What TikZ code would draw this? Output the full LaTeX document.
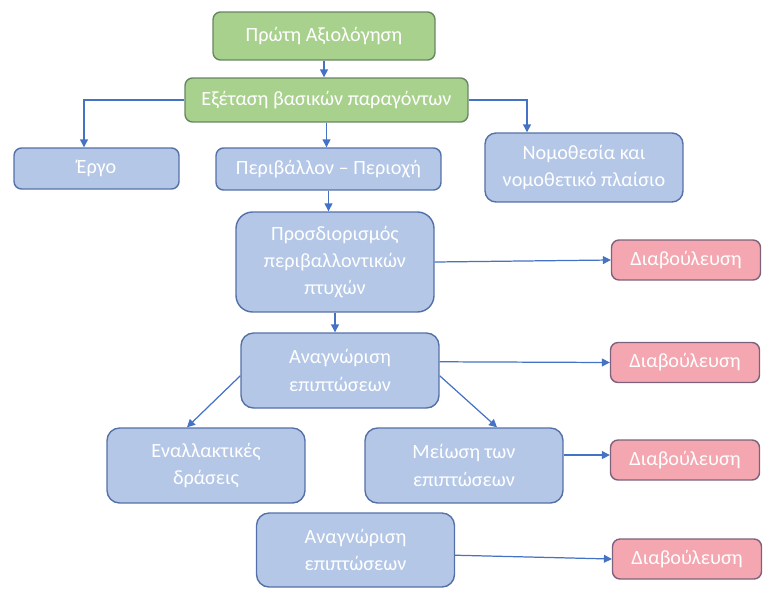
\documentclass[tikz,border=0pt]{standalone}
\usepackage{fontspec}
\setmainfont{Carlito}
\usetikzlibrary{arrows.meta}

\definecolor{boxblue}{HTML}{B4C7E7}
\definecolor{lineblue}{RGB}{84,112,168}
\definecolor{boxgreen}{HTML}{A9D18E}
\definecolor{linegreen}{RGB}{104,134,98}
\definecolor{boxpink}{HTML}{F4A7B1}
\definecolor{linepink}{RGB}{124,98,122}
\definecolor{arrowblue}{HTML}{4472C4}

\begin{document}
\begin{tikzpicture}[x=0.02cm,y=-0.02cm,
  box/.style={rounded corners=0.15cm, line width=0.8pt, text=white,
              align=center, inner sep=0pt,
              font=\fontsize{11.5}{15.5}\selectfont},
  bluebox/.style={box, fill=boxblue, draw=lineblue},
  greenbox/.style={box, fill=boxgreen, draw=linegreen},
  pinkbox/.style={box, fill=boxpink, draw=linepink,
                  minimum width=2.98cm, minimum height=0.8cm},
  link/.style={draw=arrowblue, line width=0.7pt,
               -{Triangle[width=4.5pt,length=4.5pt]}}]

  \useasboundingbox (0,0) rectangle (763,595);

  % top of the chart
  \node[greenbox, minimum width=4.44cm, minimum height=0.96cm] (first) at (324,36) {Πρώτη Αξιολόγηση};
  \node[greenbox, minimum width=5.66cm, minimum height=0.88cm] (exam) at (326.5,100) {Εξέταση βασικών παραγόντων};

  \node[bluebox, minimum width=3.3cm, minimum height=0.82cm] (ergo) at (96.5,168.5) {Έργο};
  \node[bluebox, minimum width=4.5cm, minimum height=0.84cm] (periv) at (328.5,169) {Περιβάλλον – Περιοχή};
  \node[bluebox, minimum width=3.96cm, minimum height=1.38cm, rounded corners=0.22cm] (nomo) at (584,167.5) {Νομοθεσία και\\νομοθετικό πλαίσιο};

  % middle
  \node[bluebox, minimum width=3.96cm, minimum height=2cm, rounded corners=0.33cm] (prosd) at (335,262) {Προσδιορισμός\\περιβαλλοντικών\\πτυχών};
  \node[pinkbox] (diab1) at (686,260) {Διαβούλευση};

  \node[bluebox, minimum width=3.96cm, minimum height=1.5cm, rounded corners=0.25cm] (anag1) at (340,370.5) {Αναγνώριση\\επιπτώσεων};
  \node[pinkbox] (diab2) at (685,362.5) {Διαβούλευση};

  \node[bluebox, minimum width=3.96cm, minimum height=1.5cm, rounded corners=0.25cm] (enal) at (206,465.5) {Εναλλακτικές\\δράσεις};
  \node[bluebox, minimum width=3.96cm, minimum height=1.5cm, rounded corners=0.25cm] (meio) at (464,465.5) {Μείωση των\\επιπτώσεων};
  \node[pinkbox] (diab3) at (685,460) {Διαβούλευση};

  % bottom
  \node[bluebox, minimum width=3.96cm, minimum height=1.48cm, rounded corners=0.25cm] (anag2) at (355.5,550) {Αναγνώριση\\επιπτώσεων};
  \node[pinkbox] (diab4) at (687,559) {Διαβούλευση};

  % connectors
  \draw[link] (first.south) -- (first.south |- exam.north);
  \draw[link] (exam.west) -| ([xshift=-0.25cm]ergo.north);
  \draw[link] (exam.east) -| ([xshift=-1.14cm]nomo.north);
  \draw[link] (exam.south) -- (exam.south |- periv.north);
  \draw[link] (periv.south) -- (periv.south |- prosd.north);
  \draw[link] (prosd.south) -- (prosd.south |- anag1.north);
  \draw[link] (prosd.east) -- (diab1.west);
  \draw[link] (anag1.5) -- (diab2.west);
  \draw[link] (anag1.183) -- ([xshift=-0.38cm]enal.north);
  \draw[link] (anag1.-3) -- ([xshift=0.66cm]meio.north);
  \draw[link] (meio.6) -- (meio.6 -| diab3.west);
  \draw[link] (anag2.-3) -- (diab4.west);

\end{tikzpicture}
\end{document}
